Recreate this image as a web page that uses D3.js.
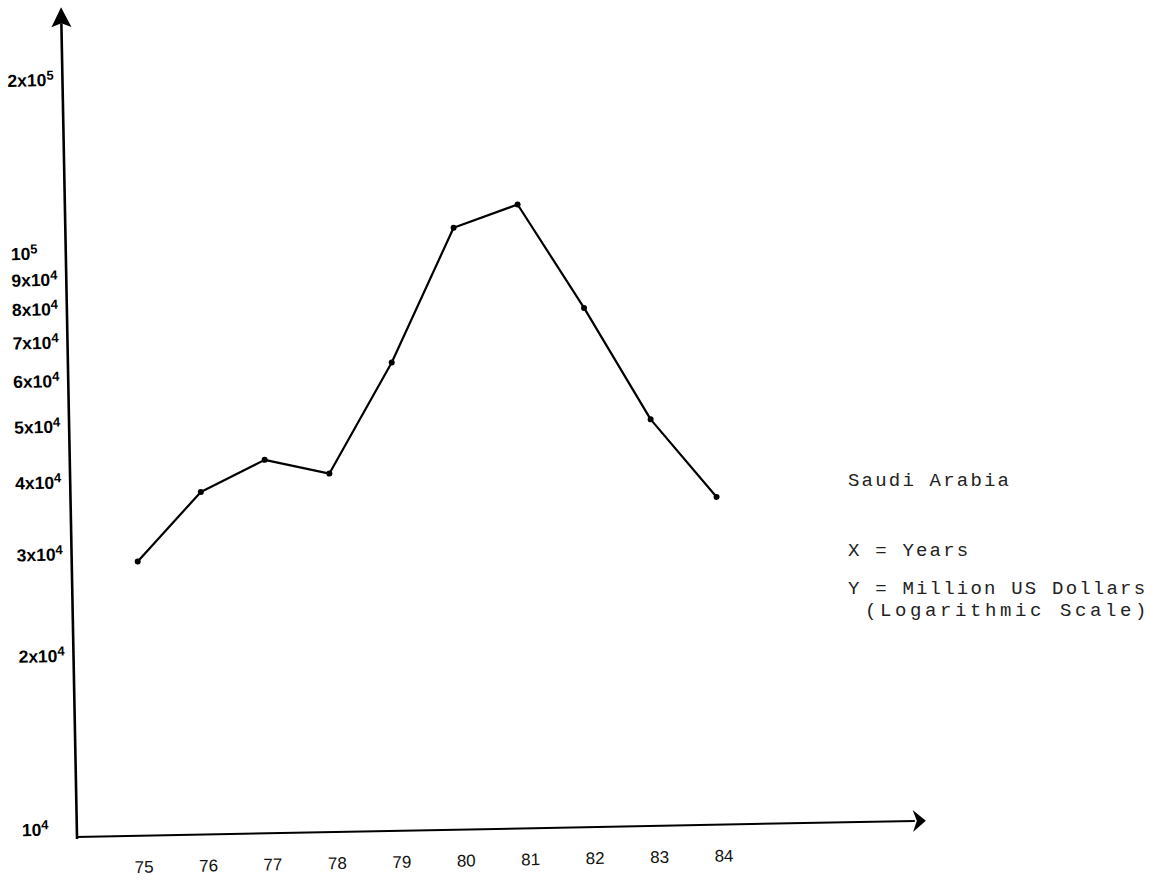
<!DOCTYPE html>
<html>
<head>
<meta charset="utf-8">
<script src="https://cdn.jsdelivr.net/npm/d3@7"></script>
<style>
  body { margin: 0; background: #fff; }
  svg { display: block; }
</style>
</head>
<body>
<div id="chart"></div>
<script>
// data
var years = [75, 76, 77, 78, 79, 80, 81, 82, 83, 84];
var values = [29000, 38100, 43100, 40600, 63000, 107400, 117300, 77200, 49200, 35900];
var yTickValues = [1e4, 2e4, 3e4, 4e4, 5e4, 6e4, 7e4, 8e4, 9e4, 1e5, 2e5];
var yTickBase = ["10", "2x10", "3x10", "4x10", "5x10", "6x10", "7x10", "8x10", "9x10", "10", "2x10"];
var yTickPow = ["4", "4", "4", "4", "4", "4", "4", "4", "4", "5", "5"];
var xTickLabels = ["75", "76", "77", "78", "79", "80", "81", "82", "83", "84"];
var legendLines = ["Saudi Arabia", "X = Years", "Y = Million US Dollars", "(Logarithmic Scale)"];

var width = 1175, height = 884;
var origin = { x: 77, y: 837 };
var tilt = -1.1; // the scan is slightly rotated

var svg = d3.select("#chart")
            .append("svg")
            .attr("width", width)
            .attr("height", height);

svg.append("rect")
   .attr("width", width)
   .attr("height", height)
   .attr("fill", "#fff");

var g = svg.append("g")
           .attr("transform", "translate(" + origin.x + "," + origin.y + ") rotate(" + tilt + ")");

// scales (y grows upward, so range is negative)
var xScale = d3.scaleLinear()
               .domain([75, 84])
               .range([66, 646]);
var yScale = d3.scaleLog()
               .domain([1e4, 1e5])
               .range([-8, -584]);

// axes lines with arrow heads
g.append("line")
 .attr("x1", 0).attr("y1", 2)
 .attr("x2", 0).attr("y2", -814)
 .attr("stroke", "#000")
 .attr("stroke-width", 2.6);
g.append("path")
 .attr("d", "M0,-830 L-10,-810 L0,-814 L10,-810 Z")
 .attr("fill", "#000");

g.append("line")
 .attr("x1", -1).attr("y1", 0)
 .attr("x2", 838).attr("y2", 0)
 .attr("stroke", "#000")
 .attr("stroke-width", 2);
g.append("path")
 .attr("d", "M849,0 L836,-11 L840,0 L836,11 Z")
 .attr("fill", "#000");

// x tick labels through a d3 axis
var xAxis = d3.axisBottom(xScale)
              .tickValues(years)
              .tickSize(0)
              .tickPadding(25)
              .tickFormat(function(d, i) { return xTickLabels[i]; });

var xg = g.append("g").call(xAxis);
xg.select(".domain").remove();
xg.selectAll("text")
  .attr("font-family", "'Liberation Sans', Arial, sans-serif")
  .attr("font-size", "17px")
  .attr("fill", "#111");

// y tick labels with superscript exponents
var yLabels = g.selectAll(".ylab")
               .data(yTickValues)
               .enter()
               .append("text")
               .attr("class", "ylab")
               .attr("x", -55)
               .attr("y", function(d) { return yScale(d); })
               .attr("dy", "0.35em")
               .attr("font-family", "'Liberation Sans', Arial, sans-serif")
               .attr("font-weight", "bold")
               .attr("font-size", "17.5px")
               .attr("fill", "#000");
yLabels.append("tspan")
       .text(function(d, i) { return yTickBase[i]; });
yLabels.append("tspan")
       .attr("dy", "-0.5em")
       .attr("font-size", "13px")
       .text(function(d, i) { return yTickPow[i]; });

// the series line and its dots
var line = d3.line()
             .x(function(d, i) { return xScale(years[i]); })
             .y(function(d) { return yScale(d); });

g.append("path")
 .datum(values)
 .attr("d", line)
 .attr("fill", "none")
 .attr("stroke", "#000")
 .attr("stroke-width", 2.2)
 .attr("stroke-linejoin", "round");

g.selectAll(".dot")
 .data(values)
 .enter()
 .append("circle")
 .attr("class", "dot")
 .attr("cx", function(d, i) { return xScale(years[i]); })
 .attr("cy", function(d) { return yScale(d); })
 .attr("r", 3)
 .attr("fill", "#000");

// typewritten legend on the right
var legendPos = [[848, 486], [848, 556], [848, 594], [865, 616]];
var legendSpacing = [2.2, 2.2, 2.2, 3.6];
svg.selectAll(".legend")
   .data(legendLines)
   .enter()
   .append("text")
   .attr("class", "legend")
   .attr("x", function(d, i) { return legendPos[i][0]; })
   .attr("y", function(d, i) { return legendPos[i][1]; })
   .attr("font-family", "'Liberation Mono', 'DejaVu Sans Mono', monospace")
   .attr("font-size", "19px")
   .attr("letter-spacing", function(d, i) { return legendSpacing[i] + "px"; })
   .attr("fill", "#222")
   .attr("xml:space", "preserve")
   .text(function(d) { return d; });
</script>
</body>
</html>
